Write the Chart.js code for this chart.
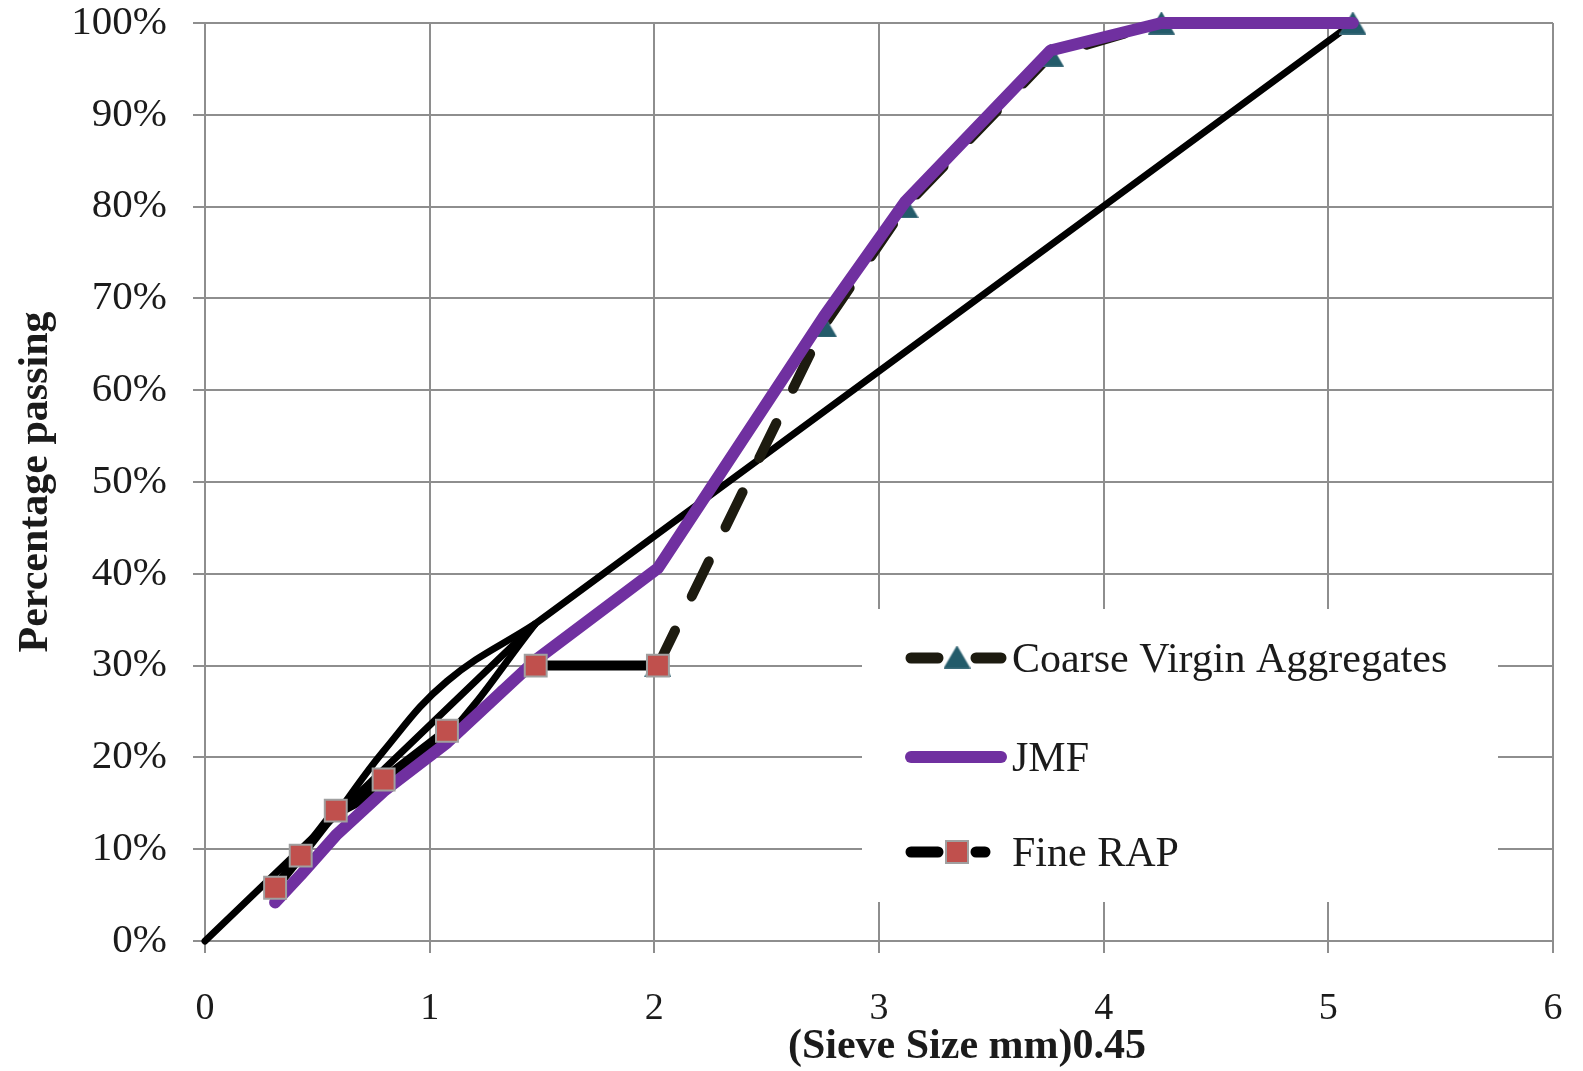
<!DOCTYPE html>
<html>
<head>
<meta charset="utf-8">
<script src="https://cdn.jsdelivr.net/npm/chart.js@4.4.1/dist/chart.umd.min.js"></script>
<style>
html,body{margin:0;padding:0;background:#fff;}
canvas{display:block;}
</style>
</head>
<body>
<canvas id="c" width="1583" height="1071"></canvas>
<script>
// ---- data ----
const xTickValues = [0, 1, 2, 3, 4, 5, 6];
const yTickValues = [0, 10, 20, 30, 40, 50, 60, 70, 80, 90, 100];

const jmfX = [0.312, 0.426, 0.582, 0.795, 1.077, 1.472, 2.016, 2.754, 3.116, 3.763, 4.257, 5.109];
const jmf  = [4.2, 7.2, 11.5, 16.3, 21.6, 30.6, 40.6, 68, 80.5, 97, 100, 100];

const coarseX = [2.016, 2.754, 3.116, 3.763, 4.257, 5.109];
const coarseVirgin = [30, 67, 80, 96.5, 100, 100];

const fineRapX = [0.312, 0.426, 0.582, 0.795, 1.077, 1.472, 2.016];
const fineRap  = [5.8, 9.3, 14.2, 17.6, 22.9, 30, 30];

const maxDensityX = [0, 1.472, 5.109];
const maxDensity  = [0, 34.6, 100];

const zoneX = [0.582, 0.795, 1.077, 1.472];
const zoneUpper = [13.7, 20.7, 28.3, 34.6];
const zoneLower = [13.7, 16.7, 22.3, 34.6];

const seriesNames = ['Coarse Virgin Aggregates', 'JMF', 'Fine RAP'];

// ---- helpers ----
const pts = (xs, ys) => xs.map((x, i) => ({x: x, y: ys[i]}));
const SERIF = "'Liberation Serif', 'Times New Roman', serif";

function makeTriangle(w, h, color) {
  const c = document.createElement('canvas');
  c.width = w; c.height = h;
  const g = c.getContext('2d');
  g.fillStyle = color;
  g.beginPath();
  g.moveTo(w / 2, 0);
  g.lineTo(w, h);
  g.lineTo(0, h);
  g.closePath();
  g.fill();
  g.strokeStyle = 'rgba(120,150,160,0.6)';
  g.lineWidth = 1;
  g.stroke();
  return c;
}
const triImg = makeTriangle(27, 23, '#235b6a');

const COLORS = {
  coarse: '#1d1b10',
  jmf: '#7030a0',
  rap: '#000000',
  rapFill: '#c0504d',
  rapEdge: '#a0a0a0',
  grid: '#8e8e8e',
  text: '#1b1b1b'
};

const overlay = {
  id: 'overlay',
  beforeDatasetsDraw(chart) {
    const ctx = chart.ctx;
    ctx.save();
    ctx.fillStyle = '#ffffff';
    ctx.fillRect(862, 609, 636, 293);
    ctx.restore();
  },
  afterDraw(chart) {
    const ctx = chart.ctx;
    ctx.save();
    ctx.lineCap = 'round';
    // legend row 1: Coarse Virgin Aggregates
    let y = 658;
    ctx.strokeStyle = COLORS.coarse;
    ctx.lineWidth = 11;
    ctx.beginPath();
    ctx.moveTo(911, y); ctx.lineTo(938, y);
    ctx.moveTo(976, y); ctx.lineTo(1001, y);
    ctx.stroke();
    ctx.drawImage(triImg, 957 - triImg.width / 2, y - triImg.height / 2 - 1);
    // row 2: JMF
    y = 757;
    ctx.strokeStyle = COLORS.jmf;
    ctx.lineWidth = 12;
    ctx.beginPath();
    ctx.moveTo(911, y); ctx.lineTo(1001, y);
    ctx.stroke();
    // row 3: Fine RAP
    y = 852;
    ctx.strokeStyle = COLORS.rap;
    ctx.lineWidth = 11;
    ctx.beginPath();
    ctx.moveTo(911, y); ctx.lineTo(938, y);
    ctx.moveTo(976, y); ctx.lineTo(985, y);
    ctx.stroke();
    ctx.fillStyle = COLORS.rapFill;
    ctx.fillRect(946, y - 11, 22, 22);
    ctx.strokeStyle = COLORS.rapEdge;
    ctx.lineWidth = 2;
    ctx.strokeRect(946, y - 11, 22, 22);
    // legend text
    ctx.fillStyle = COLORS.text;
    ctx.font = '42px ' + SERIF;
    ctx.textAlign = 'left';
    ctx.textBaseline = 'alphabetic';
    ctx.fillText(seriesNames[0], 1012, 672);
    ctx.fillText(seriesNames[1], 1012, 771);
    ctx.fillText(seriesNames[2], 1012, 866);
    // x axis title
    ctx.font = 'bold 42px ' + SERIF;
    ctx.textAlign = 'center';
    ctx.textBaseline = 'middle';
    ctx.fillText('(Sieve Size mm)0.45', 967, 1047);
    ctx.restore();
  }
};

new Chart(document.getElementById('c'), {
  type: 'scatter',
  data: {
    datasets: [
      {
        label: 'Fine RAP markers',
        data: pts(fineRapX, fineRap),
        showLine: false,
        pointStyle: 'rect',
        pointRadius: 15.5,
        pointHoverRadius: 15.5,
        pointBackgroundColor: COLORS.rapFill,
        pointBorderColor: COLORS.rapEdge,
        pointBorderWidth: 2,
        order: 1,
        clip: false
      },
      {
        label: seriesNames[1],
        data: pts(jmfX, jmf),
        showLine: true,
        borderColor: COLORS.jmf,
        borderWidth: 12,
        borderCapStyle: 'round',
        borderJoinStyle: 'round',
        tension: 0,
        pointRadius: 0,
        order: 2,
        clip: false
      },
      {
        label: seriesNames[0],
        data: pts(coarseX, coarseVirgin),
        showLine: true,
        borderColor: COLORS.coarse,
        borderWidth: 10,
        borderDash: [39, 38],
        borderCapStyle: 'round',
        pointStyle: triImg,
        pointRadius: 13,
        tension: 0,
        order: 3,
        clip: false
      },
      {
        label: seriesNames[2],
        data: pts(fineRapX, fineRap),
        showLine: true,
        borderColor: COLORS.rap,
        borderWidth: 10,
        borderCapStyle: 'round',
        borderJoinStyle: 'round',
        segment: {
          borderDash: ctx => ctx.p0DataIndex === 4 ? [0, 34] : undefined
        },
        pointRadius: 0,
        order: 4,
        clip: false
      },
      {
        label: 'Restricted zone upper',
        data: pts(zoneX, zoneUpper),
        showLine: true,
        borderColor: '#000',
        borderWidth: 7,
        tension: 0.4,
        pointRadius: 0,
        order: 5,
        clip: false
      },
      {
        label: 'Restricted zone lower',
        data: pts(zoneX, zoneLower),
        showLine: true,
        borderColor: '#000',
        borderWidth: 7,
        tension: 0.4,
        pointRadius: 0,
        order: 5,
        clip: false
      },
      {
        label: 'Maximum density line',
        data: pts(maxDensityX, maxDensity),
        showLine: true,
        borderColor: '#000',
        borderWidth: 7,
        borderCapStyle: 'round',
        pointRadius: 0,
        order: 6,
        clip: false
      }
    ]
  },
  options: {
    responsive: false,
    animation: false,
    devicePixelRatio: 1,
    events: [],
    layout: { padding: { left: 0, right: 30, top: 23, bottom: 0 } },
    plugins: {
      legend: { display: false },
      tooltip: { enabled: false },
      title: { display: false }
    },
    scales: {
      x: {
        type: 'linear',
        min: 0,
        max: 6,
        afterBuildTicks: s => { s.ticks = xTickValues.map(v => ({value: v})); },
        afterFit: s => { s.height = 130; s.paddingLeft = 0; s.paddingRight = 0; },
        grid: { color: COLORS.grid, lineWidth: 2, tickLength: 12, drawTicks: true },
        border: { color: COLORS.grid, width: 2 },
        ticks: {
          color: COLORS.text,
          font: { family: SERIF, size: 38 },
          padding: 33,
          maxRotation: 0,
          autoSkip: false
        }
      },
      y: {
        type: 'linear',
        min: 0,
        max: 100,
        afterBuildTicks: s => { s.ticks = yTickValues.map(v => ({value: v})); },
        afterFit: s => { s.width = 205; s.paddingTop = 0; s.paddingBottom = 0; },
        grid: { color: COLORS.grid, lineWidth: 2, tickLength: 12, drawTicks: true },
        border: { color: COLORS.grid, width: 2 },
        ticks: {
          color: COLORS.text,
          font: { family: SERIF, size: 41, lineHeight: 1.0 },
          padding: 26,
          autoSkip: false,
          callback: v => v + '%'
        },
        title: {
          display: true,
          text: 'Percentage passing',
          color: COLORS.text,
          font: { family: SERIF, size: 42, weight: 'bold', lineHeight: 1.2 },
          padding: { top: 11, bottom: 0 }
        }
      }
    }
  },
  plugins: [overlay]
});
</script>
</body>
</html>
